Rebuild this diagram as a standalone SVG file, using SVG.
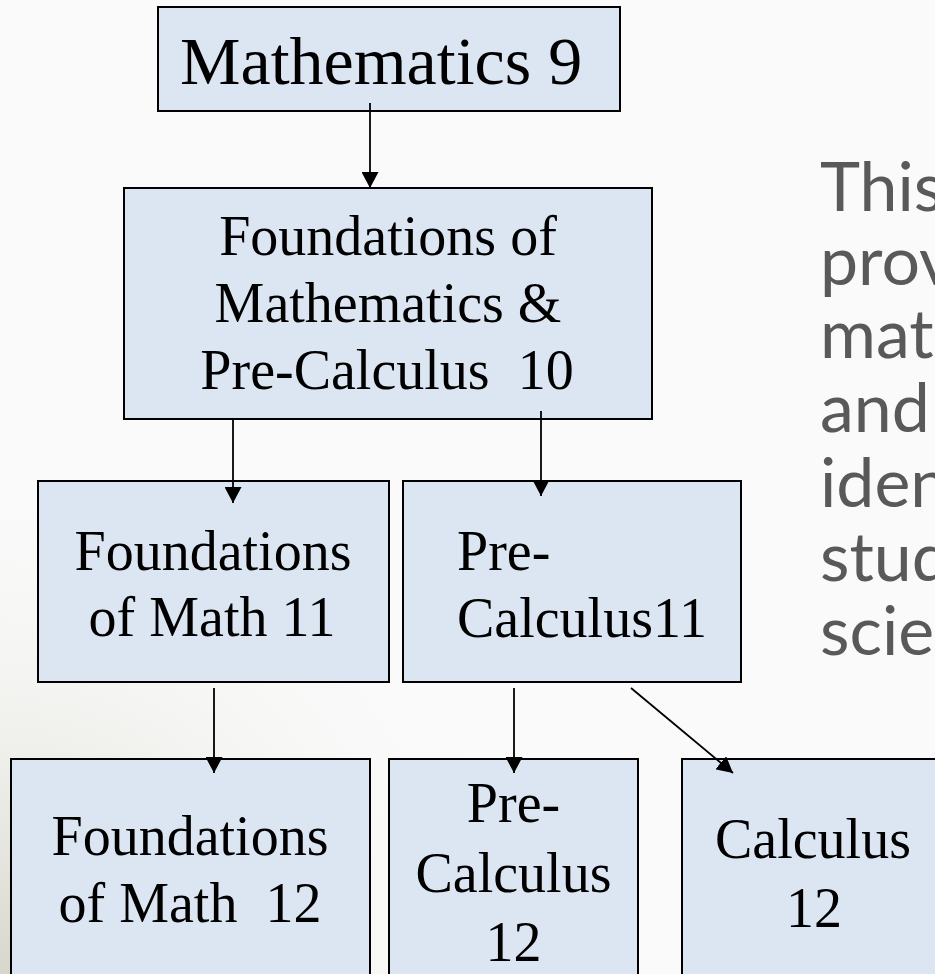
<svg xmlns="http://www.w3.org/2000/svg" width="935" height="974" viewBox="0 0 935 974">
  <defs>
    <radialGradient id="bgShade" cx="0" cy="974" r="520" gradientUnits="userSpaceOnUse">
      <stop offset="0" stop-color="#d2d2c8" stop-opacity="0.9"/>
      <stop offset="0.35" stop-color="#e2e2da" stop-opacity="0.6"/>
      <stop offset="1" stop-color="#fafafa" stop-opacity="0"/>
    </radialGradient>
    <marker id="arrow" markerUnits="userSpaceOnUse" markerWidth="17" markerHeight="17" refX="16" refY="8.5" orient="auto" viewBox="0 0 17 17">
      <path d="M0,0 L16,8.5 L0,17 z" fill="#000"/>
    </marker>
  </defs>
  <style>
    .box { fill: #dce6f2; stroke: #000; stroke-width: 2; }
    .lbl { font-family: "Liberation Serif", "Times New Roman", serif; font-size: 56px; fill: #000; white-space: pre; }
    .big { font-size: 68px; }
    .side { font-family: Lato, "Open Sans", sans-serif; font-size: 68px; fill: #595959; }
    .conn { stroke: #000; stroke-width: 1.8; fill: none; marker-end: url(#arrow); }
  </style>

  <rect x="0" y="0" width="935" height="974" fill="#fafafa"/>
  <rect x="0" y="0" width="935" height="974" fill="url(#bgShade)"/>

  <g id="side-text" class="side">
    <text x="820" y="211">This</text>
    <text x="820" y="285">prov</text>
    <text x="820" y="358">mat</text>
    <text x="820" y="432">and</text>
    <text x="820" y="507">iden</text>
    <text x="820" y="581">stud</text>
    <text x="820" y="655">scie</text>
  </g>

  <g id="node-math9">
    <rect class="box" x="158" y="7" width="462" height="104"/>
    <text class="lbl big" x="180" y="84">Mathematics 9</text>
  </g>

  <g id="node-fmpc10">
    <rect class="box" x="124" y="188" width="528" height="231"/>
    <text class="lbl" x="388" y="255" text-anchor="middle">Foundations of</text>
    <text class="lbl" x="388" y="322" text-anchor="middle">Mathematics &amp;</text>
    <text class="lbl" x="387" y="389" text-anchor="middle" xml:space="preserve">Pre-Calculus  10</text>
  </g>

  <g id="node-fm11">
    <rect class="box" x="38" y="481" width="351" height="201"/>
    <text class="lbl" x="213" y="570" text-anchor="middle">Foundations</text>
    <text class="lbl" x="212" y="636" text-anchor="middle">of Math 11</text>
  </g>

  <g id="node-pc11">
    <rect class="box" x="403" y="481" width="338" height="201"/>
    <text class="lbl" x="457" y="570">Pre-</text>
    <text class="lbl" x="457" y="637">Calculus11</text>
  </g>

  <g id="node-fm12">
    <rect class="box" x="11" y="759" width="359" height="240"/>
    <text class="lbl" x="190" y="855" text-anchor="middle">Foundations</text>
    <text class="lbl" x="190" y="922" text-anchor="middle" xml:space="preserve">of Math  12</text>
  </g>

  <g id="node-pc12">
    <rect class="box" x="389" y="759" width="249" height="240"/>
    <text class="lbl" x="513.5" y="822" text-anchor="middle">Pre-</text>
    <text class="lbl" x="513.5" y="892" text-anchor="middle">Calculus</text>
    <text class="lbl" x="513.5" y="961" text-anchor="middle">12</text>
  </g>

  <g id="node-calc12">
    <rect class="box" x="682" y="759" width="262" height="240"/>
    <text class="lbl" x="813" y="858" text-anchor="middle">Calculus</text>
    <text class="lbl" x="814" y="927" text-anchor="middle">12</text>
  </g>

  <g id="connectors">
    <line class="conn" x1="370" y1="103" x2="370" y2="188"/>
    <line class="conn" x1="233" y1="419" x2="233" y2="503"/>
    <line class="conn" x1="541" y1="411" x2="541" y2="496"/>
    <line class="conn" x1="214" y1="688" x2="214" y2="773"/>
    <line class="conn" x1="514" y1="688" x2="514" y2="773"/>
    <line class="conn" x1="631" y1="688" x2="733" y2="773"/>
  </g>
</svg>
